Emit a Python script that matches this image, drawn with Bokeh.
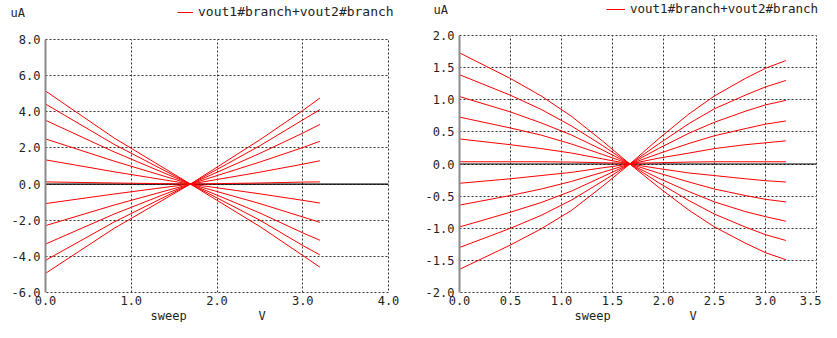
from bokeh.plotting import figure
from bokeh.layouts import row, column
from bokeh.models import (Range1d, FixedTicker, PrintfTickFormatter, Span, Label,
                          Legend, LegendItem)
from bokeh.embed import file_html
from bokeh.resources import INLINE

FONT = "DejaVu Sans Mono"
TXT = "#222222"
GRID = "#333333"
RED = "#ff0000"

SERIES_NAME = "vout1#branch+vout2#branch"
Y_UNIT = "uA"
X_NAME = "sweep"
X_UNIT = "V"

# ---------------- left panel data ----------------
left_x = [0.0, 0.8, 1.69, 2.5, 3.0, 3.2]
left_curves = [
    [5.15, 2.55, 0.0, -2.35, -3.95, -4.60],
    [4.43, 2.20, 0.0, -2.00, -3.40, -3.92],
    [3.53, 1.78, 0.0, -1.60, -2.70, -3.11],
    [2.50, 1.27, 0.0, -1.08, -1.82, -2.12],
    [1.34, 0.68, 0.0, -0.54, -0.90, -1.05],
    [0.12, 0.06, 0.0, 0.06, 0.11, 0.12],
    [-1.08, -0.55, 0.0, 0.66, 1.10, 1.29],
    [-2.30, -1.16, 0.0, 1.22, 2.02, 2.37],
    [-3.32, -1.66, 0.0, 1.70, 2.82, 3.30],
    [-4.22, -2.10, 0.0, 2.12, 3.55, 4.12],
    [-4.94, -2.45, 0.0, 2.45, 4.07, 4.76],
]
left_xticks = [0.0, 1.0, 2.0, 3.0, 4.0]
left_yticks = [-6.0, -4.0, -2.0, 0.0, 2.0, 4.0, 6.0, 8.0]

# ---------------- right panel data ----------------
right_x = [0.0, 0.5, 0.8, 1.1, 1.4, 1.67, 1.95, 2.25, 2.5, 2.8, 3.0, 3.2]
right_curves = [
    [1.73, 1.33, 1.06, 0.74, 0.36, 0.0, -0.36, -0.72, -0.98, -1.23, -1.38, -1.49],
    [1.39, 1.07, 0.85, 0.59, 0.29, 0.0, -0.29, -0.57, -0.78, -0.98, -1.10, -1.19],
    [1.05, 0.81, 0.64, 0.45, 0.22, 0.0, -0.22, -0.43, -0.59, -0.74, -0.82, -0.89],
    [0.73, 0.56, 0.45, 0.31, 0.15, 0.0, -0.14, -0.28, -0.39, -0.49, -0.55, -0.59],
    [0.39, 0.30, 0.24, 0.17, 0.08, 0.0, -0.07, -0.14, -0.18, -0.23, -0.26, -0.28],
    [0.035, 0.035, 0.035, 0.03, 0.02, 0.01, 0.02, 0.03, 0.035, 0.035, 0.035, 0.035],
    [-0.30, -0.23, -0.18, -0.13, -0.06, 0.0, 0.09, 0.17, 0.24, 0.30, 0.33, 0.36],
    [-0.64, -0.49, -0.39, -0.27, -0.13, 0.0, 0.16, 0.32, 0.44, 0.55, 0.62, 0.67],
    [-0.98, -0.75, -0.60, -0.42, -0.20, 0.0, 0.24, 0.48, 0.65, 0.82, 0.92, 0.99],
    [-1.30, -1.00, -0.80, -0.56, -0.27, 0.0, 0.31, 0.63, 0.86, 1.07, 1.20, 1.30],
    [-1.64, -1.26, -1.01, -0.72, -0.35, 0.0, 0.39, 0.78, 1.06, 1.33, 1.49, 1.61],
]
right_xticks = [0.0, 0.5, 1.0, 1.5, 2.0, 2.5, 3.0, 3.5]
right_yticks = [-2.0, -1.5, -1.0, -0.5, 0.0, 0.5, 1.0, 1.5, 2.0]


def strip(width, height):
    """A plain drawing strip (no axes) in pixel units, for header/footer texts."""
    s = figure(width=width, height=height, output_backend="svg",
               toolbar_location=None, x_axis_type=None, y_axis_type=None,
               x_range=Range1d(0, width), y_range=Range1d(0, height),
               min_border=0, min_border_left=0, min_border_right=0,
               min_border_top=0, min_border_bottom=0)
    s.outline_line_color = None
    s.background_fill_color = "white"
    s.border_fill_color = "white"
    s.frame_align = False
    return s


def add_text(s, x, y, txt):
    s.add_layout(Label(x=x, y=y, text=txt, text_font=FONT, text_font_size="12px",
                       text_color=TXT, text_baseline="middle", text_align="left"))


def header(width, height, ua_x, text_y, leg_x, leg_y, glyph_w, leg_font):
    s = strip(width, height)
    add_text(s, ua_x, text_y, Y_UNIT)
    # legend key renderer: carries the series style only, draws nothing itself
    key = s.line(x=[float("nan")], y=[float("nan")], line_color=RED, line_width=1)
    leg = Legend(items=[LegendItem(label=SERIES_NAME, renderers=[key])],
                 location=(leg_x, leg_y), orientation="horizontal",
                 padding=0, margin=0, spacing=0,
                 border_line_color=None, background_fill_alpha=0,
                 label_text_font=FONT, label_text_font_size=leg_font,
                 label_text_color=TXT, label_width=0,
                 glyph_width=glyph_w, glyph_height=10, label_height=10,
                 label_standoff=5)
    s.add_layout(leg)
    return s


def footer(width, height, sweep_x, v_x):
    s = strip(width, height)
    add_text(s, sweep_x, height / 2, X_NAME)
    add_text(s, v_x, height / 2, X_UNIT)
    return s


def main_plot(xs, curves, xticks, yticks, width, height, borders):
    bl, br, bt, bb = borders
    p = figure(width=width, height=height, output_backend="svg",
               toolbar_location=None,
               x_range=Range1d(xticks[0], xticks[-1]),
               y_range=Range1d(yticks[0], yticks[-1]),
               min_border_left=bl, min_border_right=br,
               min_border_top=bt, min_border_bottom=bb)
    p.frame_align = False
    p.background_fill_color = "white"
    p.border_fill_color = "white"
    p.outline_line_color = GRID
    p.outline_line_dash = "2 2"
    p.outline_line_width = 1

    for ax, ticks in ((p.xaxis[0], xticks), (p.yaxis[0], yticks)):
        ax.ticker = FixedTicker(ticks=ticks)
        ax.formatter = PrintfTickFormatter(format="%.1f")
        ax.major_tick_line_color = None
        ax.minor_tick_line_color = None
        ax.major_tick_out = 0
        ax.major_tick_in = 0
        ax.major_label_text_font = FONT
        ax.major_label_text_font_size = "12px"
        ax.major_label_text_color = TXT
    p.yaxis.major_label_standoff = 5
    p.xaxis.major_label_standoff = 3
    p.xaxis.axis_line_color = None
    p.yaxis.axis_line_color = "#8a8a8a"
    p.yaxis.axis_line_width = 2

    for g in (p.xgrid[0], p.ygrid[0]):
        g.grid_line_color = GRID
        g.grid_line_dash = "2 2"
        g.grid_line_width = 1

    p.add_layout(Span(location=0, dimension="width", line_color="black",
                      line_width=1.2, level="underlay"))

    for c in curves:
        p.line(xs, c, line_color=RED, line_width=1)
    return p


LW, RW = 414, 407
FOOT = 14

left_col = column(
    header(LW, 27, ua_x=10, text_y=15, leg_x=177, leg_y=8, glyph_w=16,
           leg_font="13px"),
    main_plot(left_x, left_curves, left_xticks, left_yticks, LW, 322 - 27 - FOOT,
              borders=(45, 26, 12, 16)),
    footer(LW, FOOT, sweep_x=150, v_x=258),
    spacing=0)

right_col = column(
    header(RW, 23, ua_x=19, text_y=14, leg_x=192, leg_y=7, glyph_w=19,
           leg_font="12.5px"),
    main_plot(right_x, right_curves, right_xticks, right_yticks, RW, 322 - 23 - FOOT,
              borders=(45, 5, 12, 16)),
    footer(RW, FOOT, sweep_x=160, v_x=275),
    spacing=0)

layout = row(left_col, right_col, spacing=0)

open("out.html", "w").write(file_html(layout, INLINE))
